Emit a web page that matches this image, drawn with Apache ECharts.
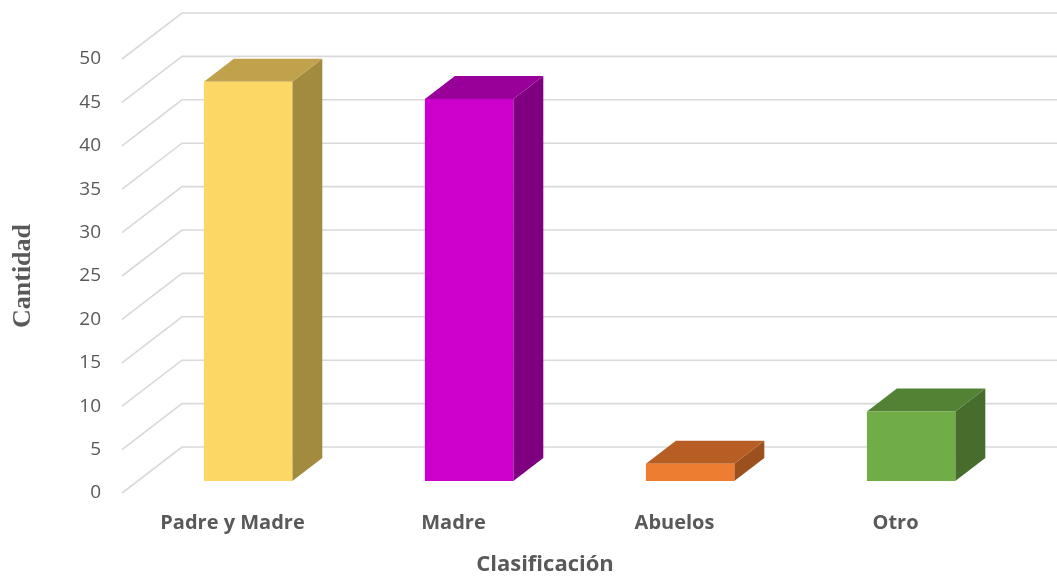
<!DOCTYPE html>
<html>
<head>
<meta charset="utf-8">
<script src="https://cdn.jsdelivr.net/npm/echarts@6/dist/echarts.min.js"></script>
<style>
  html, body { margin: 0; padding: 0; background: #ffffff; }
  #chart { width: 1057px; height: 581px; }
</style>
</head>
<body>
<div id="chart"></div>
<script>
// Categories and counts
const categories = ['Padre y Madre', 'Madre', 'Abuelos', 'Otro'];
const counts = [46, 44, 2, 8];
const yTicks = [0, 5, 10, 15, 20, 25, 30, 35, 40, 45, 50];

// Face colours for each bar: front, top, side
const frontColors = ['#FCD766', '#CC00CC', '#ED7D31', '#70AD47'];
const topColors   = ['#C1A24C', '#990099', '#B65E24', '#548235'];
const sideColors  = ['#A28A3F', '#7F007F', '#9B501E', '#476D2C'];

// Oblique depth of the floor/back wall, in pixels
const DEPTH_X = 60;
const DEPTH_Y = -46;
// Bar depth span (fraction of full depth) and bar width (fraction of band)
const BAR_Z0 = 0.26;
const BAR_Z1 = 0.76;
const BAR_WIDTH = 0.4;

const chart = echarts.init(document.getElementById('chart'), null, { renderer: 'canvas' });

// One grid line per tick: front edge -> back wall -> right edge
function renderGrid(params, api) {
  const v = api.value(0);
  const cs = params.coordSys;
  const y = api.coord([0, v])[1];
  const x0 = cs.x;
  return {
    type: 'polyline',
    shape: {
      points: [
        [x0, y],
        [x0 + DEPTH_X, y + DEPTH_Y],
        [chart.getWidth(), y + DEPTH_Y]
      ]
    },
    style: { stroke: '#D9D9D9', lineWidth: 1.6, fill: null }
  };
}

// Box-shaped bar: side, top and front faces
function renderBar(params, api) {
  const idx = params.dataIndex;
  const cat = api.value(0);
  const v = api.value(1);
  const base = api.coord([cat, 0]);
  const top = api.coord([cat, v]);
  const band = api.size([1, 0])[0];
  const w = band * BAR_WIDTH;
  const fx = DEPTH_X * BAR_Z0, fy = DEPTH_Y * BAR_Z0;
  const dx = DEPTH_X * (BAR_Z1 - BAR_Z0), dy = DEPTH_Y * (BAR_Z1 - BAR_Z0);
  const x0 = base[0] - w / 2 + fx, x1 = x0 + w;
  const yb = base[1] + fy, yt = top[1] + fy;
  return {
    type: 'group',
    children: [
      {
        type: 'polygon',
        shape: { points: [[x1, yt], [x1 + dx, yt + dy], [x1 + dx, yb + dy], [x1, yb]] },
        style: { fill: sideColors[idx] }
      },
      {
        type: 'polygon',
        shape: { points: [[x0, yt], [x1, yt], [x1 + dx, yt + dy], [x0 + dx, yt + dy]] },
        style: { fill: topColors[idx] }
      },
      {
        type: 'rect',
        shape: { x: x0, y: yt, width: w, height: yb - yt },
        style: { fill: frontColors[idx] }
      }
    ]
  };
}

chart.setOption({
  animation: false,
  backgroundColor: '#ffffff',
  grid: { left: 122, right: 51, top: 59, bottom: 84, containLabel: false },
  xAxis: {
    type: 'category',
    data: categories,
    name: 'Clasificación',
    nameLocation: 'middle',
    nameGap: 61,
    nameTextStyle: { fontFamily: 'Open Sans', fontWeight: 'bold', fontSize: 22, color: '#595959',
      padding: [0, 38, 0, 0] },
    axisLine: { show: false },
    axisTick: { show: false },
    axisLabel: { fontFamily: 'Open Sans', fontWeight: 'bold', fontSize: 20, color: '#595959', margin: 20 },
    splitLine: { show: false }
  },
  yAxis: {
    type: 'value',
    min: 0,
    max: 50,
    interval: 5,
    name: 'Cantidad',
    nameLocation: 'middle',
    nameGap: 86,
    nameTextStyle: { fontFamily: 'Liberation Serif', fontWeight: 'bold', fontSize: 26, color: '#595959' },
    axisLine: { show: false },
    axisTick: { show: false },
    axisLabel: { fontFamily: 'Open Sans', fontSize: 19, color: '#595959', margin: 21 },
    splitLine: { show: false }
  },
  series: [
    {
      type: 'custom',
      clip: false,
      z: 1,
      silent: true,
      data: yTicks.map(v => [v]),
      encode: { y: 0 },
      renderItem: renderGrid
    },
    {
      type: 'custom',
      clip: false,
      z: 2,
      data: counts.map((c, i) => [i, c]),
      encode: { x: 0, y: 1 },
      renderItem: renderBar
    }
  ]
});
</script>
</body>
</html>
